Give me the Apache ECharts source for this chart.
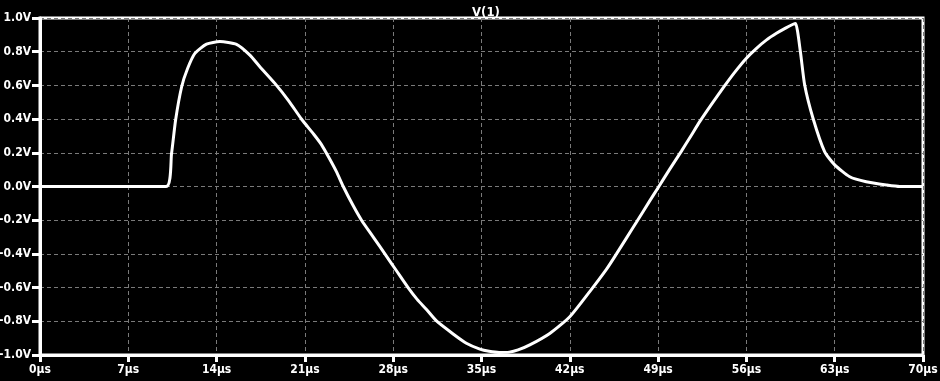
<!DOCTYPE html>
<html>
<head>
<meta charset="utf-8">
<script src="https://cdn.jsdelivr.net/npm/echarts@6/dist/echarts.min.js"></script>
<style>
html,body{margin:0;padding:0;background:#000;}
#c{width:940px;height:381px;}
</style>
</head>
<body>
<div id="c"></div>
<script>
var title = 'V(1)';
var timeUs = [0, 10.0, 10.43, 10.75, 11.23, 11.7, 12.28, 13.2, 14.26, 15.58, 16.64, 17.43, 18.62, 19.7, 20.74, 21.7, 22.3, 22.9, 23.5, 24.04, 24.8, 25.49, 26.42, 27.34, 28.26, 29.18, 29.9, 30.64, 31.43, 32.75, 33.8, 34.87, 35.6, 36.4, 37.2, 37.9, 38.83, 40.41, 42.0, 43.58, 44.9, 45.7, 46.5, 47.28, 48.3, 49.0, 49.9, 50.85, 51.6, 52.3, 53.3, 54.28, 55.1, 56.0, 56.8, 57.6, 58.38, 59.1, 59.7, 59.9, 60.28, 60.62, 61.28, 62.2, 63.0, 64.19, 65.5, 67.1, 68.15, 70];
var volts = [0, 0, 0.197, 0.395, 0.592, 0.70, 0.79, 0.845, 0.86, 0.844, 0.78, 0.711, 0.612, 0.51, 0.399, 0.31, 0.25, 0.172, 0.088, 0.0, -0.11, -0.2, -0.3, -0.4, -0.5, -0.6, -0.67, -0.73, -0.798, -0.875, -0.93, -0.965, -0.978, -0.985, -0.983, -0.97, -0.94, -0.872, -0.773, -0.624, -0.492, -0.4, -0.305, -0.212, -0.09, -0.007, 0.10, 0.21, 0.30, 0.385, 0.495, 0.598, 0.68, 0.761, 0.82, 0.87, 0.909, 0.94, 0.963, 0.968, 0.8, 0.602, 0.405, 0.207, 0.128, 0.058, 0.028, 0.009, 0.0, 0.0];
var xTicks = [0, 7, 14, 21, 28, 35, 42, 49, 56, 63, 70];
var yTicks = [-1.0, -0.8, -0.6, -0.4, -0.2, 0.0, 0.2, 0.4, 0.6, 0.8, 1.0];

var data = timeUs.map(function(t, i){ return [t, volts[i]]; });
var labelFont = {color:'#fff', fontFamily:'DejaVu Sans Condensed', fontWeight:'bold', fontSize:12};
var chart = echarts.init(document.getElementById('c'), null, {renderer:'canvas'});
chart.setOption({
  backgroundColor:'#000',
  animation:false,
  title:{text:title, left:481, top:1, textAlign:'center',
    textStyle:{color:'#fff', fontFamily:'DejaVu Sans Condensed', fontWeight:'bold', fontSize:13}},
  grid:{left:40, right:17, top:18, bottom:26, containLabel:false, outerBoundsMode:'none',
    show:true, borderColor:'#fff', borderWidth:3, backgroundColor:'#000'},
  xAxis:{type:'value', min:xTicks[0], max:xTicks[xTicks.length-1], interval:7,
    axisLine:{show:true, onZero:false, lineStyle:{color:'#fff', width:3}},
    axisTick:{show:true, length:7, lineStyle:{color:'#fff', width:3}},
    axisLabel:Object.assign({margin:9, formatter:function(v){return v+'\u00b5s';}}, labelFont),
    splitLine:{show:true, lineStyle:{color:'#7a7a7a', width:1, type:[4,3]}}},
  yAxis:{type:'value', min:yTicks[0], max:yTicks[yTicks.length-1], interval:0.2,
    axisLine:{show:true, onZero:false, lineStyle:{color:'#fff', width:3}},
    axisTick:{show:true, length:8, lineStyle:{color:'#fff', width:3}},
    axisLabel:Object.assign({margin:9, formatter:function(v){return v.toFixed(1)+'V';}}, labelFont),
    splitLine:{show:true, lineStyle:{color:'#7a7a7a', width:1, type:[4,3]}}},
  series:[{type:'line', data:data, showSymbol:false, smooth:0.2,
    lineStyle:{color:'#fff', width:3}, itemStyle:{color:'#fff'}}]
});
</script>
</body>
</html>
